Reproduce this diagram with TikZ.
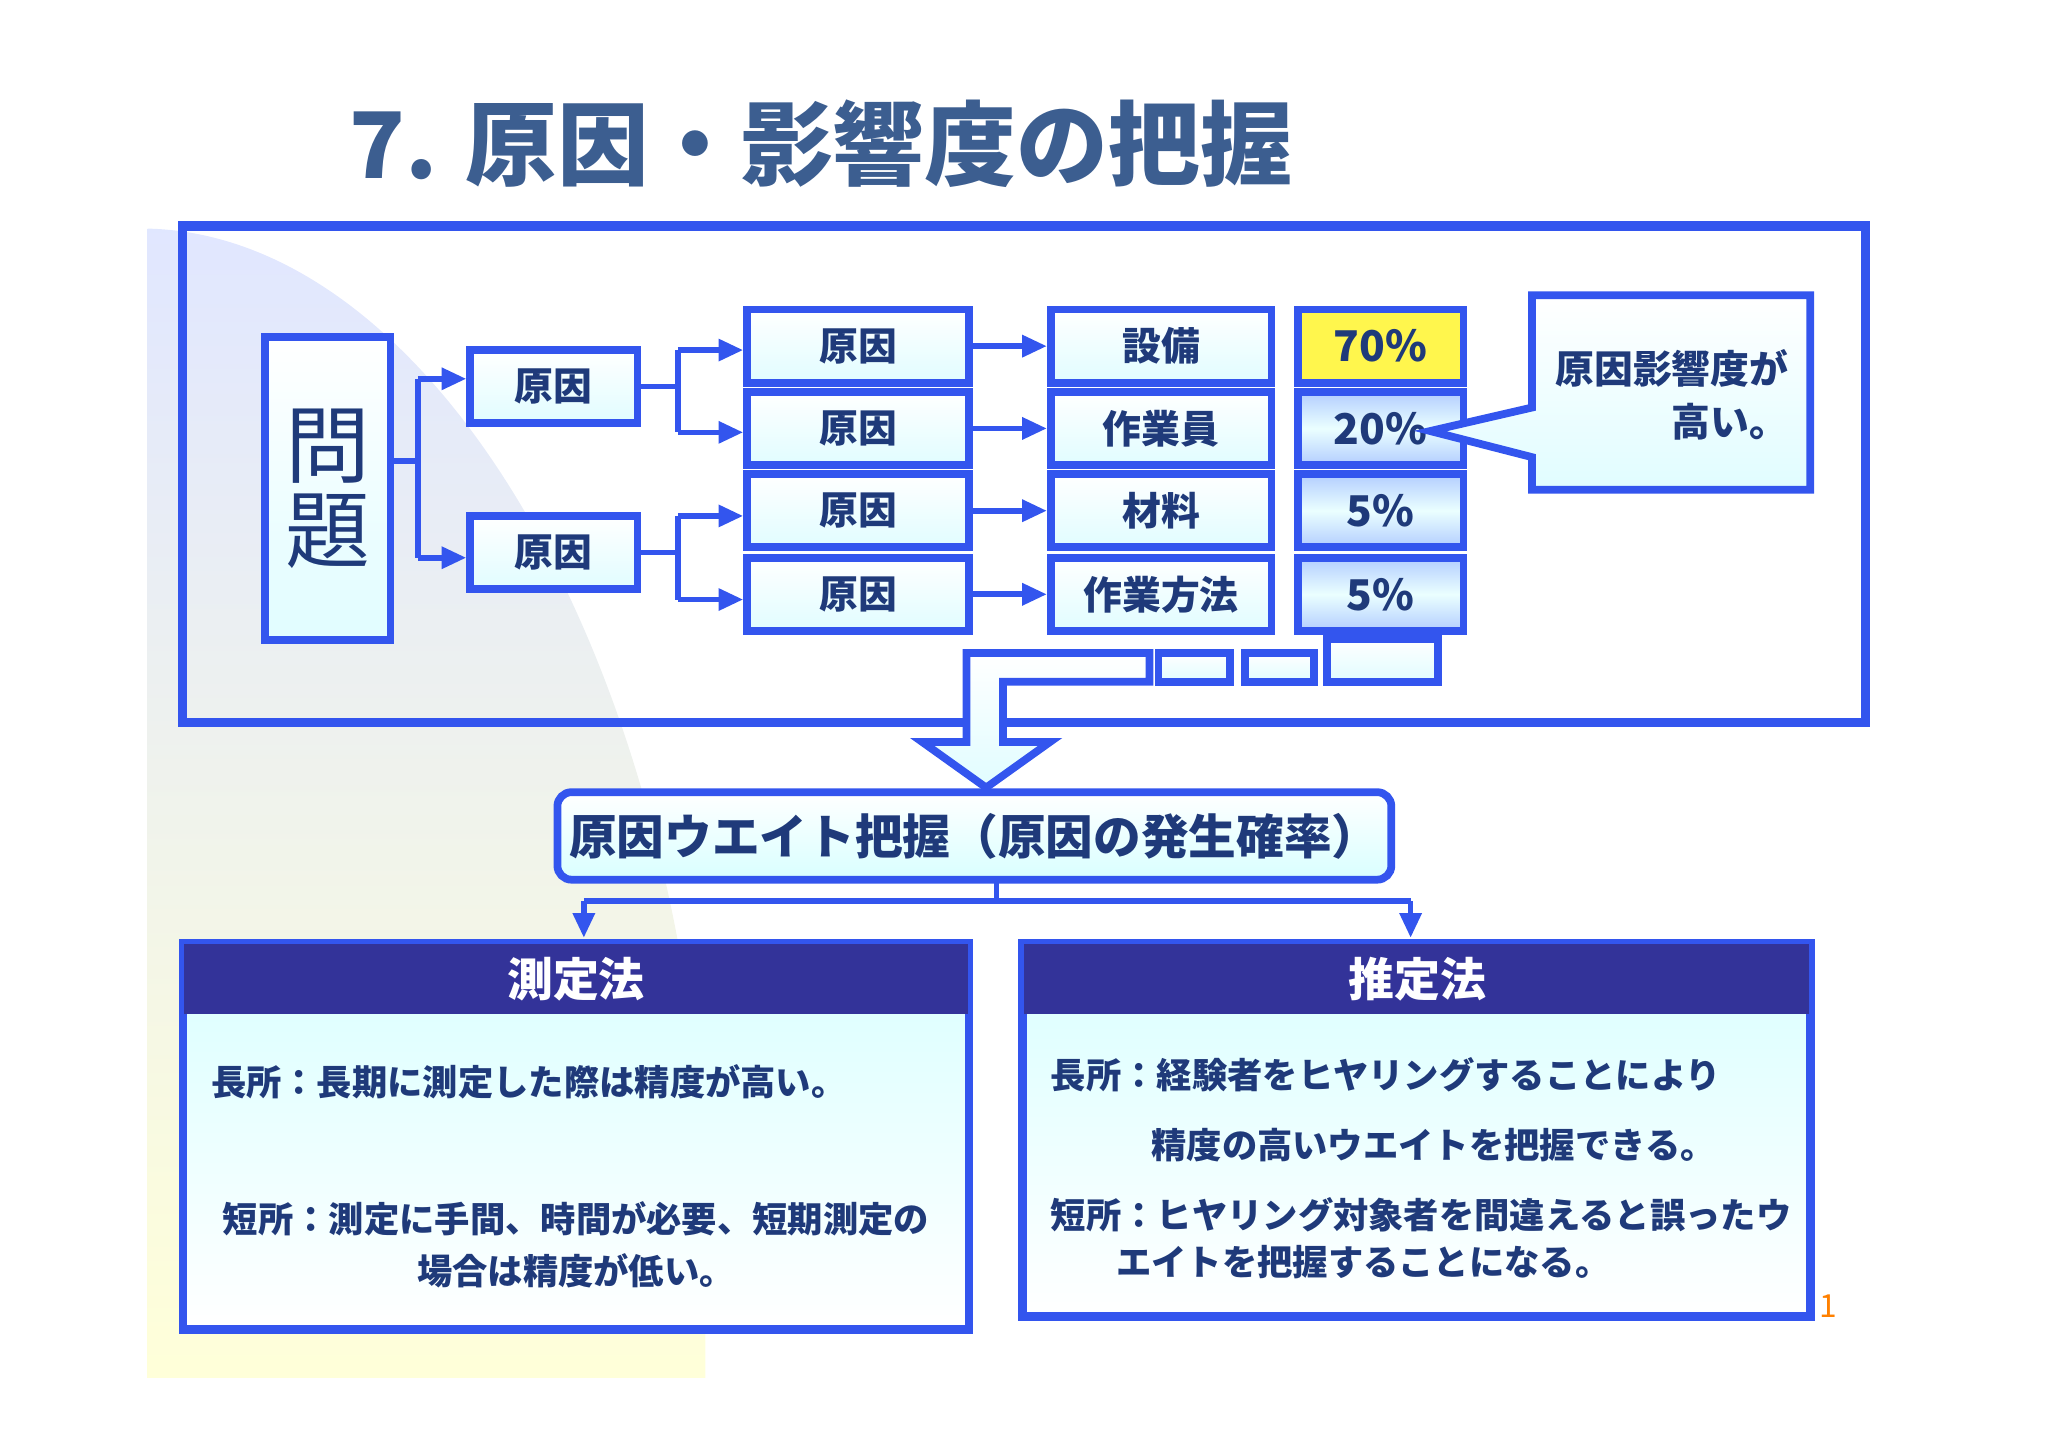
\documentclass[tikz,border=0pt]{standalone}
\usepackage{fontspec}
\setmainfont{Noto Sans CJK JP}
\usetikzlibrary{arrows.meta}
\definecolor{fb}{HTML}{3355EE}
\definecolor{tt}{HTML}{3C5E90}
\definecolor{nv}{HTML}{333399}
\definecolor{tx}{HTML}{1F3A7A}
\begin{document}
\begin{tikzpicture}[x=0.013cm,y=-0.013cm,
 bx/.style={draw=fb,line width=2.2pt,top color=white,bottom color=blue!8!cyan!12,font=\bfseries\fontsize{11}{12}\selectfont,text=tx},
 pc/.style={draw=fb,line width=2.2pt,top color=cyan!35!blue!30,bottom color=cyan!35!blue!30,middle color=cyan!8,font=\bfseries\fontsize{12}{12}\selectfont,text=tx},
 ar/.style={draw=fb,line width=1.6pt,-{Triangle[length=7pt,width=6pt]}},
 ln/.style={draw=fb,line width=1.6pt},
 bt/.style={font=\bfseries\fontsize{10}{14.5}\selectfont,text=tx,anchor=west}]
\useasboundingbox (0,0) rectangle (1568,1108);
% background
\shade[top color=cyan!20!blue!12,bottom color=yellow!15] (113,175) .. controls (330,180) and (520,500) .. (540,900) -- (540,1055) -- (113,1055) -- cycle;
\node[font=\bfseries\fontsize{26}{26}\selectfont,text=tt,anchor=west] (title) at (258,110) {7. 原因・影響度の把握};
\draw[fb,line width=2.6pt] (140,173) rectangle (1428,553);
% nodes
\newcommand{\bxx}[6]{\node[#1,minimum width=#4*0.013cm,minimum height=#5*0.013cm,inner sep=0pt] (#2) at (#3) {#6};}
\bxx{bx}{p}{251,374}{96}{232}{\fontsize{24}{26}\selectfont\mdseries\shortstack{問\\題}}
\bxx{bx}{a1}{424,296}{128}{56}{原因}
\bxx{bx}{a2}{424,423}{128}{56}{原因}
\foreach \n/\y/\t/\u/\v in {1/265/原因/設備/70\%,2/328/原因/作業員/20\%,3/391/原因/材料/5\%,4/455/原因/作業方法/5\%}{
 \bxx{bx}{b\n}{657,\y}{170}{56}{\t}
 \bxx{bx}{c\n}{889,\y}{169}{56}{\u}
 \bxx{pc}{d\n}{1057,\y}{127}{56}{\v}
}
\node[draw=fb,line width=2.2pt,fill=yellow!70,minimum width=127*0.013cm,minimum height=56*0.013cm,font=\bfseries\fontsize{12}{12}\selectfont,text=tx] at (d1) {70\%};
% callout
\draw[bx] (1173,226) -- (1386,226) -- (1386,375) -- (1173,375) -- (1173,350) -- (1095,330) -- (1173,312) -- cycle;
\node[font=\bfseries\fontsize{11}{15}\selectfont,text=tx,align=right] (co) at (1280,302) {原因影響度が\\高い。};
% connectors
\coordinate (pj) at (320,353);
\draw[ln] (p.east|-pj) -- (pj);
\draw[ln] (320,290) -- (320,427);
\draw[ar] (320,290) -- (a1.west|-320,290);
\draw[ar] (320,427) -- (a2.west|-320,427);
\draw[ln] (a1.east) -- (519,296); \draw[ln] (519,268) -- (519,331);
\draw[ar] (519,268) -- (b1.west|-519,268);
\draw[ar] (519,331) -- (b2.west|-519,331);
\draw[ln] (a2.east) -- (519,423); \draw[ln] (519,395) -- (519,459);
\draw[ar] (519,395) -- (b3.west|-519,395);
\draw[ar] (519,459) -- (b4.west|-519,459);
\foreach \n in {1,...,4}{\draw[ar] (b\n.east) -- (c\n.west);}
% small boxes and big arrow
\draw[bx] (887,500) rectangle (942,522);
\draw[bx] (953,500) rectangle (1006,522);
\draw[bx] (1016,489) rectangle (1101,522);
\draw[bx] (880,500) -- (740,500) -- (740,568) -- (706,568) -- (755,603) -- (804,568) -- (768,568) -- (768,522) -- (880,522) -- cycle;
\node[draw=fb,line width=2.2pt,rounded corners=4pt,top color=white,bottom color=cyan!15,minimum width=623*0.013cm,minimum height=67*0.013cm,font=\bfseries\fontsize{13.5}{14}\selectfont,text=tx] (w) at (746,640) {原因ウエイト把握（原因の発生確率）};
\draw[ln] (763,673) -- (763,690);
\draw[ln] (447,690) -- (1080,690);
\coordinate (l) at (447,718); \coordinate (r) at (1080,718);
\draw[ar] (447,690) -- (l);
\draw[ar] (1080,690) -- (r);
% panels
\draw[fb,line width=2.4pt,top color=cyan!15,bottom color=white] (140,722) rectangle (742,1018);
\fill[nv] (141,723) rectangle (741,776);
\node[text=white,font=\bfseries\fontsize{13}{13}\selectfont] (h1) at (441,750) {測定法};
\node[bt] (t1) at (152,828) {長所：長期に測定した際は精度が高い。};
\node[bt,align=center,anchor=center] (t2) at (441,953) {短所：測定に手間、時間が必要、短期測定の\\場合は精度が低い。};
\draw[fb,line width=2.4pt,top color=cyan!15,bottom color=white] (783,722) rectangle (1386,1008);
\fill[nv] (784,723) rectangle (1385,776);
\node[text=white,font=\bfseries\fontsize{13}{13}\selectfont] (h2) at (1085,750) {推定法};
\node[bt] (t3) at (795,823) {長所：経験者をヒヤリングすることにより};
\node[bt] (t4) at (872,877) {精度の高いウエイトを把握できる。};
\node[bt] (t5) at (795,930) {短所：ヒヤリング対象者を間違えると誤ったウ};
\node[bt] (t6) at (845,966) {エイトを把握することになる。};
\node[text=orange,font=\fontsize{9}{9}\selectfont] (pg) at (1400,1000) {1};
\end{tikzpicture}
\end{document}
